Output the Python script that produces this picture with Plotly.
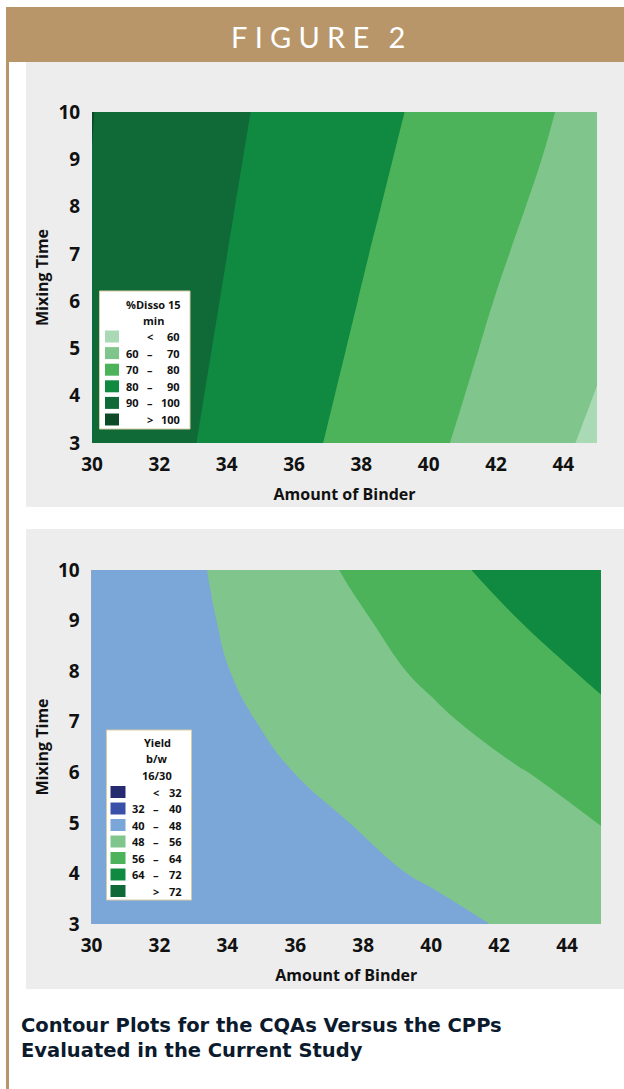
import plotly.graph_objects as go

W, H = 624, 1089

# ---------------- data ----------------
binder = [30, 32.5, 35, 37.5, 40, 42.5, 45]          # Amount of Binder grid
mixing_time = [3, 4, 5, 6, 7, 8, 9, 10]               # Mixing Time grid

# %Disso 15 min  (rows = mixing_time, cols = binder)
disso_15 = [
    [98.24, 91.6, 84.95, 78.31, 71.69, 65.0, 58.28],
    [98.58, 92.14, 85.7, 79.25, 72.79, 66.27, 59.71],
    [98.92, 92.66, 86.39, 80.13, 73.8, 67.45, 61.07],
    [99.22, 93.14, 87.06, 80.97, 74.78, 68.56, 62.36],
    [99.53, 93.6, 87.68, 81.75, 75.77, 69.75, 63.63],
    [99.79, 94.03, 88.27, 82.51, 76.73, 70.93, 64.89],
    [99.95, 94.45, 88.83, 83.21, 77.61, 72.01, 66.14],
    [100.15, 94.84, 89.37, 83.9, 78.44, 73.02, 67.01],
]

# Yield b/w 16/30  (rows = mixing_time, cols = binder)
yield_bw = [
    [40.3, 41.8, 43.3, 44.8, 46.45, 48.7, 50.9],
    [40.6, 42.3, 44.1, 46.5, 48.6, 51.0, 53.5],
    [40.8, 43.0, 45.27, 47.89, 50.65, 53.4, 56.17],
    [41.0, 44.2, 46.9, 49.8, 52.69, 55.58, 58.57],
    [41.2, 44.95, 48.2, 51.52, 54.84, 58.45, 62.5],
    [41.5, 45.6, 49.39, 53.25, 57.15, 61.13, 65.3],
    [41.8, 45.96, 50.28, 54.65, 59.2, 63.82, 68.4],
    [42.0, 46.15, 51.27, 56.43, 61.57, 66.7, 71.6],
]

binder_ticks = [30, 32, 34, 36, 38, 40, 42, 44]
mixing_ticks = [3, 4, 5, 6, 7, 8, 9, 10]

disso_levels = [60, 70, 80, 90, 100]
disso_colors = ["#a9dab5", "#80c68c", "#4db35a", "#108a40", "#0f6a37", "#0d4b28"]
disso_title = ["%Disso 15", "min"]

yield_levels = [32, 40, 48, 56, 64, 72]
yield_colors = ["#262b6f", "#3a50a8", "#7ba7d8", "#80c68c", "#4db35a", "#108a40", "#0f6a37"]
yield_title = ["Yield", "b/w", "16/30"]

header_text = "FIGURE 2"
caption_lines = ["Contour Plots for the CQAs Versus the CPPs", "Evaluated in the Current Study"]
x_title = "Amount of Binder"
y_title = "Mixing Time"

# ---------------- helpers ----------------
def px(x):
    return x / W

def py(y):
    return 1 - y / H

GOLD = "#b8966a"
PANEL = "#ededed"
TXT = "#111111"
TICKFONT = dict(family="Open Sans", size=19, color=TXT, weight="bold")
TITLEFONT = dict(family="Open Sans", size=16, color=TXT, weight="bold")
LEGFONT = dict(family="Open Sans", size=11, color=TXT, weight="bold")


def band_scale(colors):
    n = len(colors) - 1
    return [[k / n, c] for k, c in enumerate(colors)]


fig = go.Figure()

fig.add_trace(go.Contour(
    x=binder, y=mixing_time, z=disso_15,
    autocontour=False,
    contours=dict(start=disso_levels[0], end=disso_levels[-1],
                  size=disso_levels[1] - disso_levels[0],
                  coloring="fill", showlines=False),
    colorscale=band_scale(disso_colors),
    line=dict(width=0, smoothing=1.3),
    showscale=False, hoverinfo="skip",
    xaxis="x", yaxis="y",
))

fig.add_trace(go.Contour(
    x=binder, y=mixing_time, z=yield_bw,
    autocontour=False,
    contours=dict(start=yield_levels[0], end=yield_levels[-1],
                  size=yield_levels[1] - yield_levels[0],
                  coloring="fill", showlines=False),
    colorscale=band_scale(yield_colors),
    line=dict(width=0, smoothing=1.3),
    showscale=False, hoverinfo="skip",
    xaxis="x2", yaxis="y2",
))

# plot areas (pixels)
P1 = (92, 112, 597, 443)
P2 = (91.5, 570, 601, 924)

common_x = dict(range=[30, 45], tickvals=binder_ticks, showgrid=False, zeroline=False,
                showline=False, ticks="outside", ticklen=4, tickcolor="rgba(0,0,0,0)",
                tickfont=TICKFONT, fixedrange=True, automargin=False)
common_y = dict(range=[3, 10], tickvals=mixing_ticks, showgrid=False, zeroline=False,
                showline=False, ticks="outside", ticklen=7, tickcolor="rgba(0,0,0,0)",
                tickfont=TICKFONT, fixedrange=True, automargin=False)

fig.update_layout(
    width=W, height=H,
    margin=dict(l=0, r=0, t=0, b=0, pad=0, autoexpand=False),
    paper_bgcolor="white",
    plot_bgcolor="rgba(0,0,0,0)",
    showlegend=False,
    xaxis=dict(domain=[px(P1[0]), px(P1[2])], anchor="y",
               title=dict(text=x_title, font=TITLEFONT, standoff=13), **common_x),
    yaxis=dict(domain=[py(P1[3]), py(P1[1])], anchor="x",
               title=dict(text=y_title, font=TITLEFONT, standoff=5), **common_y),
    xaxis2=dict(domain=[px(P2[0]), px(P2[2])], anchor="y2",
                title=dict(text=x_title, font=TITLEFONT, standoff=13), **common_x),
    yaxis2=dict(domain=[py(P2[3]), py(P2[1])], anchor="x2",
                title=dict(text=y_title, font=TITLEFONT, standoff=5), **common_y),
)

shapes = []
annotations = []


def rect(x0, y0, x1, y1, fill, line=None, layer="below", lw=0):
    shapes.append(dict(type="rect", xref="paper", yref="paper",
                       x0=px(x0), x1=px(x1), y0=py(y1), y1=py(y0),
                       fillcolor=fill, layer=layer,
                       line=dict(width=lw, color=line or fill)))


def text(x, y, s, font, xanchor="center", yanchor="middle"):
    annotations.append(dict(xref="paper", yref="paper", x=px(x), y=py(y), text=s,
                            showarrow=False, font=font, xanchor=xanchor,
                            yanchor=yanchor, align="left"))


# header band, left rule and grey panels
rect(6, 7, W, 62, GOLD)
rect(6, 7, 9, H, GOLD)
rect(26, 62, W, 507, PANEL)
rect(26, 529, W, 989, PANEL)

head = "\u2005".join(header_text.split(" ")[0]) + "\u2002\u2006" + header_text.split(" ")[1]
text(318, 36, head, dict(family="Lato", size=29, color="white"))
text(19, 1012, "<br>".join(caption_lines),
     dict(family="DejaVu Sans", size=19.5, color="#0b1a2c", weight="bold"),
     xanchor="left", yanchor="top")


def legend(box, title_lines, title_y, title_x, levels, colors,
           row_y0, pitch, sw_x, num_l, sign_c, num_r):
    rect(*box, "white", line="#d8cca4", layer="above", lw=1)
    for i, t in enumerate(title_lines):
        text(title_x, title_y + i * 16.6, t, LEGFONT)
    for k, c in enumerate(colors):
        y = row_y0 + k * pitch
        rect(sw_x[0], y - 6, sw_x[1], y + 6, c, layer="above")
        if k == 0:
            text(sign_c, y, "<", LEGFONT)
            text(num_r, y, str(levels[0]), LEGFONT, xanchor="right")
        elif k == len(colors) - 1:
            text(sign_c, y, ">", LEGFONT)
            text(num_r, y, str(levels[-1]), LEGFONT, xanchor="right")
        else:
            text(num_l, y, str(levels[k - 1]), LEGFONT, xanchor="left")
            text(sign_c, y, "\u2013", LEGFONT)
            text(num_r, y, str(levels[k]), LEGFONT, xanchor="right")


legend((99.5, 291, 190, 429), disso_title, 304, 153, disso_levels, disso_colors,
       336.5, 16.6, (105, 119), 124, 150, 182)
legend((106.5, 730, 191.5, 900), yield_title, 742, 157, yield_levels, yield_colors,
       792, 16.5, (110.5, 125.5), 130, 156, 184)

fig.update_layout(shapes=shapes, annotations=annotations)
fig.write_html("out.html",
               config={"displayModeBar": False},
               post_script="document.documentElement.style.margin='0px';"
                           "document.body.style.margin='0px';"
                           "document.body.style.overflow='hidden';")
